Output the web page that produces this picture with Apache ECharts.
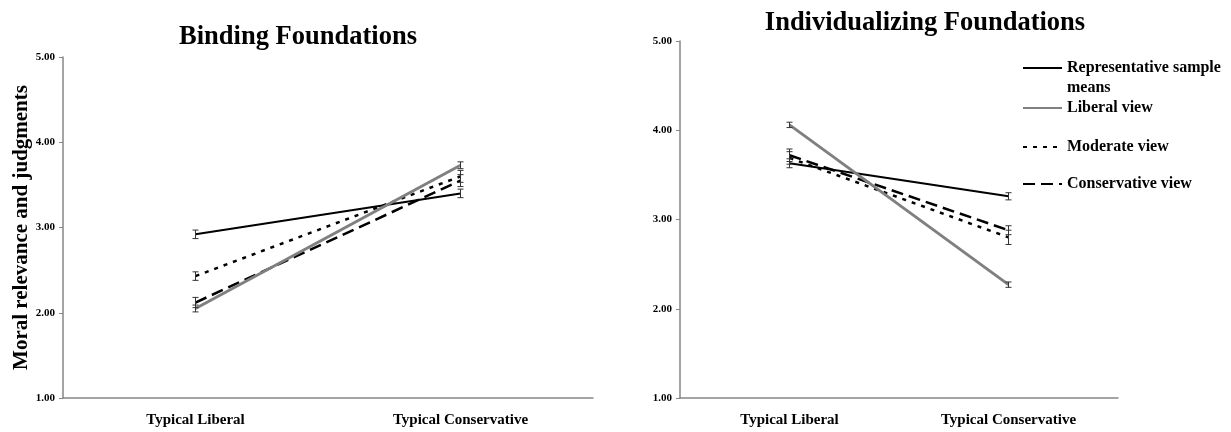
<!DOCTYPE html>
<html>
<head>
<meta charset="utf-8">
<script src="https://cdn.jsdelivr.net/npm/echarts@6/dist/echarts.min.js"></script>
<style>
  html, body { margin: 0; padding: 0; background: #fff; }
  #chart { width: 1231px; height: 432px; }
</style>
</head>
<body>
<div id="chart"></div>
<script>
// Categories shared by both panels
const categories = ['Typical Liberal', 'Typical Conservative'];
const yTicks = [1, 2, 3, 4, 5];

const seriesNames = ['Representative sample means', 'Liberal view', 'Moderate view', 'Conservative view'];

// Binding foundations: means and standard errors
const bindingRep = [2.92, 3.40];
const bindingLiberal = [2.05, 3.73];
const bindingModerate = [2.43, 3.60];
const bindingConservative = [2.12, 3.55];
const bindingRepErr = [0.05, 0.05];
const bindingLiberalErr = [0.04, 0.04];
const bindingModerateErr = [0.05, 0.07];
const bindingConservativeErr = [0.06, 0.07];

// Individualizing foundations: means and standard errors
const indivRep = [3.63, 3.26];
const indivLiberal = [4.06, 2.27];
const indivModerate = [3.69, 2.80];
const indivConservative = [3.72, 2.88];
const indivRepErr = [0.05, 0.04];
const indivLiberalErr = [0.03, 0.03];
const indivModerateErr = [0.07, 0.08];
const indivConservativeErr = [0.07, 0.05];

const SERIF = '"Liberation Serif", "Times New Roman", serif';

const lineStyles = [
  { color: '#000000', width: 2, type: 'solid' },
  { color: '#808080', width: 3, type: 'solid' },
  { color: '#000000', width: 2.5, type: [4, 6] },
  { color: '#000000', width: 2.5, type: [12, 6] }
];

function lineSeries(name, values, idx, styleIdx) {
  const ls = lineStyles[styleIdx];
  return {
    name: name,
    type: 'line',
    xAxisIndex: idx,
    yAxisIndex: idx,
    data: values,
    symbol: 'none',
    lineStyle: ls,
    itemStyle: { color: ls.color },
    z: 3,
    animation: false
  };
}

function errorSeries(values, errs, idx) {
  return {
    type: 'custom',
    xAxisIndex: idx,
    yAxisIndex: idx,
    data: values.map((v, i) => [i, v, v - errs[i], v + errs[i]]),
    encode: { x: 0, y: [1, 2, 3] },
    z: 4,
    silent: true,
    animation: false,
    renderItem: function (params, api) {
      const lo = api.coord([api.value(0), api.value(2)]);
      const hi = api.coord([api.value(0), api.value(3)]);
      const cap = 3;
      const style = { stroke: '#333333', lineWidth: 1 };
      return {
        type: 'group',
        children: [
          { type: 'line', shape: { x1: lo[0], y1: lo[1], x2: hi[0], y2: hi[1] }, style: style },
          { type: 'line', shape: { x1: lo[0] - cap, y1: lo[1], x2: lo[0] + cap, y2: lo[1] }, style: style },
          { type: 'line', shape: { x1: hi[0] - cap, y1: hi[1], x2: hi[0] + cap, y2: hi[1] }, style: style }
        ]
      };
    }
  };
}

function xAxis(idx) {
  return {
    type: 'category',
    gridIndex: idx,
    data: categories,
    boundaryGap: true,
    axisLine: { lineStyle: { color: '#868686', width: 1.5 } },
    axisTick: { show: false },
    axisLabel: { color: '#000', fontFamily: SERIF, fontWeight: 'bold', fontSize: 15, margin: 15 },
    splitLine: { show: false }
  };
}

function yAxis(idx, withName) {
  const ax = {
    type: 'value',
    gridIndex: idx,
    min: yTicks[0],
    max: yTicks[yTicks.length - 1],
    interval: 1,
    axisLine: { show: true, lineStyle: { color: '#868686', width: 1.5 } },
    axisTick: { show: true, length: 4, lineStyle: { color: '#868686', width: 1 } },
    axisLabel: {
      color: '#000', fontFamily: SERIF, fontWeight: 'bold', fontSize: 11, margin: 8,
      formatter: v => v.toFixed(2)
    },
    splitLine: { show: false }
  };
  if (withName) {
    ax.name = 'Moral relevance and judgments';
    ax.nameLocation = 'middle';
    ax.nameGap = 31;
    ax.nameTextStyle = { color: '#000', fontFamily: SERIF, fontWeight: 'bold', fontSize: 21 };
  }
  return ax;
}

// One legend block per entry so each row sits at its own height
function legendItem(name, top, label, lineHeight) {
  return {
    data: [name],
    left: 1022,
    top: top,
    padding: 0,
    orient: 'vertical',
    itemWidth: 39,
    itemHeight: 16,
    itemGap: 0,
    selectedMode: false,
    itemStyle: { opacity: 0 },
    formatter: label ? () => label : undefined,
    textStyle: {
      color: '#000', fontFamily: SERIF, fontWeight: 'bold', fontSize: 16,
      lineHeight: lineHeight
    }
  };
}

const chart = echarts.init(document.getElementById('chart'), null, { renderer: 'canvas' });

chart.setOption({
  backgroundColor: '#ffffff',
  animation: false,
  title: [
    {
      text: 'Binding Foundations',
      left: 293, top: 19, textAlign: 'center',
      textStyle: { color: '#000', fontFamily: SERIF, fontWeight: 'bold', fontSize: 26.5 }
    },
    {
      text: 'Individualizing Foundations',
      left: 920, top: 5, textAlign: 'center',
      textStyle: { color: '#000', fontFamily: SERIF, fontWeight: 'bold', fontSize: 26.5 }
    }
  ],
  legend: [
    legendItem(seriesNames[0], 38, '\u00a0\nRepresentative sample\nmeans', 20),
    legendItem(seriesNames[1], 100, null, 16),
    legendItem(seriesNames[2], 139, null, 16),
    legendItem(seriesNames[3], 176, null, 16)
  ],
  grid: [
    { left: 63, top: 57, width: 530, height: 341 },
    { left: 680, top: 41, width: 438, height: 357 }
  ],
  xAxis: [xAxis(0), xAxis(1)],
  yAxis: [yAxis(0, true), yAxis(1, false)],
  series: [
    lineSeries(seriesNames[0], bindingRep, 0, 0),
    lineSeries(seriesNames[2], bindingModerate, 0, 2),
    lineSeries(seriesNames[3], bindingConservative, 0, 3),
    lineSeries(seriesNames[1], bindingLiberal, 0, 1),
    errorSeries(bindingRep, bindingRepErr, 0),
    errorSeries(bindingLiberal, bindingLiberalErr, 0),
    errorSeries(bindingModerate, bindingModerateErr, 0),
    errorSeries(bindingConservative, bindingConservativeErr, 0),

    lineSeries(seriesNames[0], indivRep, 1, 0),
    lineSeries(seriesNames[2], indivModerate, 1, 2),
    lineSeries(seriesNames[3], indivConservative, 1, 3),
    lineSeries(seriesNames[1], indivLiberal, 1, 1),
    errorSeries(indivRep, indivRepErr, 1),
    errorSeries(indivLiberal, indivLiberalErr, 1),
    errorSeries(indivModerate, indivModerateErr, 1),
    errorSeries(indivConservative, indivConservativeErr, 1)
  ]
});
</script>
</body>
</html>
